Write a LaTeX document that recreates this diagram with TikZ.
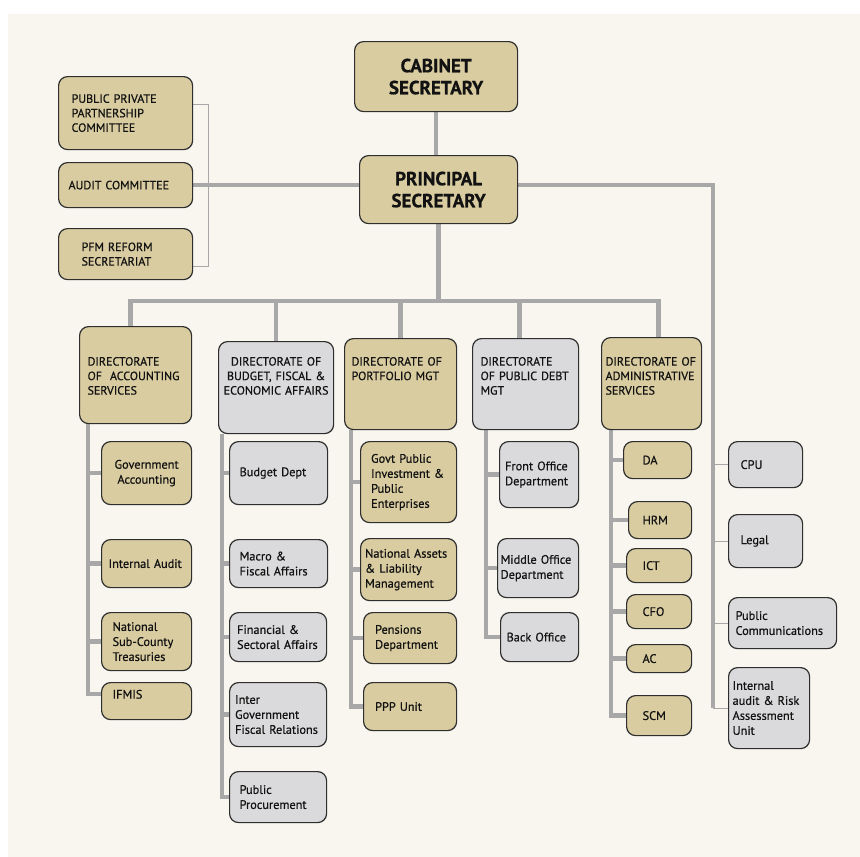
\documentclass[tikz,border=0pt]{standalone}
\usepackage{fontspec}
\setmainfont{PT Sans}[FakeBold=0.6]
\usetikzlibrary{calc}

\definecolor{paper}{HTML}{F8F6EF}
\definecolor{tanfill}{HTML}{D9CCA0}
\definecolor{greyfill}{HTML}{DADADC}
\definecolor{boxline}{HTML}{2E2E2E}
\definecolor{linegrey}{HTML}{A8A8A8}
\definecolor{ink}{HTML}{121212}

\pgfdeclarelayer{bg}
\pgfsetlayers{bg,main}

\newcommand{\headfont}{\fontsize{19}{22}\selectfont\bfseries}
\newcommand{\dirfont}{\fontsize{12}{14.5}\selectfont}
\newcommand{\unitfont}{\fontsize{12.3}{15}\selectfont}

\begin{document}
\begin{tikzpicture}[
  x=1pt, y=-1pt,
  box/.style={
    draw=boxline,
    line width=1.2pt,
    rounded corners=9pt,
    anchor=north west,
    inner sep=0pt,
    align=left,
    text=ink
  },
  tanbox/.style={box, fill=tanfill},
  greybox/.style={box, fill=greyfill},
  head/.style={font=\headfont, align=center},
  dir/.style={font=\dirfont},
  unit/.style={font=\unitfont},
  link/.style={draw=linegrey, line width=4.5pt},
  thinlink/.style={draw=linegrey, line width=1.2pt}
]
\useasboundingbox (0,0) rectangle (860,857);

% top of the chart
\node[tanbox, head, minimum width=163pt, minimum height=70pt] (cab) at (354,41) {CABINET\\SECRETARY};
\node[tanbox, head, minimum width=158pt, minimum height=68pt] (prin) at (359,155) {PRINCIPAL\\SECRETARY};

% committees
\node[tanbox, dir, minimum width=134pt, minimum height=73pt, text width=108pt] (pppc) at (58,76) {PUBLIC PRIVATE\\PARTNERSHIP\\COMMITTEE};
\node[tanbox, dir, minimum width=134pt, minimum height=45pt, text width=114pt] (audc) at (58,162) {AUDIT COMMITTEE};
\node[tanbox, dir, minimum width=134pt, minimum height=51pt, text width=88pt] (pfm) at (58,228) {PFM REFORM\\SECRETARIAT};

% directorates
\node[tanbox, dir, minimum width=112pt, text width=96pt, text height=39pt, text depth=58pt] (acc) at (79,326) {DIRECTORATE\\OF~~ACCOUNTING\\SERVICES};
\node[greybox, dir, align=center, minimum width=115pt, text width=109pt, text height=24pt, text depth=68pt] (bud) at (218,341) {DIRECTORATE OF\\BUDGET, FISCAL \&\\ECONOMIC AFFAIRS};
\node[tanbox, dir, minimum width=112pt, text width=98pt, text height=27pt, text depth=64pt] (port) at (344,338) {DIRECTORATE OF\\PORTFOLIO MGT};
\node[greybox, dir, minimum width=106pt, text width=90pt, text height=27pt, text depth=64pt] (debt) at (472,338) {DIRECTORATE\\OF PUBLIC DEBT\\MGT};
\node[tanbox, dir, minimum width=100pt, text width=92pt, text height=28pt, text depth=64pt] (adm) at (601,337) {DIRECTORATE OF\\ADMINISTRATIVE\\SERVICES};

% accounting services
\node[tanbox, unit, align=center, minimum width=90pt, minimum height=63pt, text width=76pt] (ga) at (101,441) {Government\\Accounting};
\node[tanbox, unit, minimum width=90pt, minimum height=48pt, text width=76pt] (ia) at (101,539) {Internal Audit};
\node[tanbox, unit, minimum width=90pt, minimum height=58pt, text width=68pt] (nst) at (101,612) {National\\Sub-County\\Treasuries};
\node[tanbox, unit, minimum width=90pt, text width=68pt, text height=16pt, text depth=21pt] (ifm) at (101,682) {IFMIS};

% budget, fiscal and economic affairs
\node[greybox, unit, minimum width=98pt, minimum height=63pt, text width=78pt] (bd) at (229,441) {Budget Dept};
\node[greybox, unit, minimum width=98pt, minimum height=48pt, text width=78pt] (mfa) at (229,539) {Macro \&\\Fiscal Affairs};
\node[greybox, unit, minimum width=97pt, minimum height=49pt, text width=82pt] (fsa) at (229,612) {Financial \&\\Sectoral Affairs};
\node[greybox, unit, minimum width=97pt, minimum height=64pt, text width=86pt] (igf) at (229,682) {Inter\\Government\\Fiscal Relations};
\node[greybox, unit, minimum width=97pt, minimum height=51pt, text width=77pt] (pp) at (229,771) {Public\\Procurement};

% portfolio management
\node[tanbox, unit, minimum width=96pt, minimum height=81pt, text width=75pt] (gpi) at (360,441) {Govt Public\\Investment \&\\Public\\Enterprises};
\node[tanbox, unit, minimum width=96pt, minimum height=62pt, text width=87pt] (nal) at (360,538) {National Assets\\\& Liability\\Management};
\node[tanbox, unit, minimum width=93pt, minimum height=51pt, text width=70pt] (pen) at (363,612) {Pensions\\Department};
\node[tanbox, unit, minimum width=93pt, minimum height=48pt, text width=70pt] (pppu) at (363,682) {PPP Unit};

% public debt management
\node[greybox, unit, minimum width=79pt, minimum height=66pt, text width=68pt] (fo) at (499,441) {Front Office\\Department};
\node[greybox, unit, minimum width=81pt, minimum height=59pt, text width=75pt] (mo) at (497,538) {Middle Office\\Department};
\node[greybox, unit, minimum width=78pt, minimum height=49pt, text width=66pt] (bo) at (500,612) {Back Office};

% administrative services
\node[tanbox, unit, minimum width=68pt, minimum height=37pt, text width=30pt] (da) at (623,441) {DA};
\node[tanbox, unit, minimum width=63pt, minimum height=37pt, text width=35pt] (hrm) at (628,501) {HRM};
\node[tanbox, unit, minimum width=65pt, minimum height=34pt, text width=33pt] (ict) at (626,548) {ICT};
\node[tanbox, unit, minimum width=65pt, minimum height=34pt, text width=33pt] (cfo) at (626,594) {CFO};
\node[tanbox, unit, minimum width=65pt, minimum height=28pt, text width=33pt] (ac) at (626,644) {AC};
\node[tanbox, unit, minimum width=65pt, minimum height=40pt, text width=33pt] (scm) at (626,695) {SCM};

% units under the principal secretary
\node[greybox, unit, minimum width=74pt, minimum height=46pt, text width=50pt] (cpu) at (728,441) {CPU};
\node[greybox, unit, minimum width=74pt, minimum height=53pt, text width=50pt] (legal) at (728,514) {Legal};
\node[greybox, unit, minimum width=108pt, minimum height=51pt, text width=94pt] (pcom) at (728,597) {Public\\Communications};
\node[greybox, unit, minimum width=81pt, minimum height=81pt, text width=73pt] (iaru) at (728,667) {Internal\\audit \& Risk\\Assessment\\Unit};

\begin{pgfonlayer}{bg}
  \fill[white] (0,0) rectangle (860,857);
  \fill[paper] (8,14) rectangle (860,857);

  \draw[link] (cab.south) -- (cab.south |- prin.north);
  \draw[link] (audc.east) -- (audc.east -| prin.west);
  \draw[link] (audc.east -| prin.east) -| ([xshift=-15pt]iaru.west);
  \foreach \n in {cpu,legal,pcom,iaru}
    \draw[thinlink] (\n.west) -- ++(-15,0);
  \draw[thinlink] ([yshift=9pt]pppc.east) -- ++(15,0) |- ([yshift=-12pt]pfm.east);

  % bus to the directorates
  \coordinate (bus) at (435,301);
  \draw[link] (prin.south) -- (prin.south |- bus);
  \draw[link] ([xshift=-5pt]acc.north) |- (bus) -| ([xshift=7pt]adm.north);
  \draw[link] (bud.north) -- (bud.north |- bus);
  \draw[link] (port.north) -- (port.north |- bus);
  \draw[link] ([xshift=-6pt]debt.north) -- ([xshift=-6pt]debt.north |- bus);

  % spines
  \coordinate (accsp) at ([xshift=9pt]acc.south west);
  \coordinate (budsp) at ([xshift=4pt]bud.south west);
  \coordinate (portsp) at ([xshift=7pt]port.south west);
  \coordinate (debtsp) at ([xshift=14pt]debt.south west);
  \coordinate (admsp) at ([xshift=10pt]adm.south west);

  \draw[link] (accsp) |- ([yshift=7pt]ifm.west);
  \foreach \n in {ga,ia,nst}
    \draw[link] (\n.west) -- (\n.west -| accsp);
  \draw[link] (budsp) |- (pp.west);
  \foreach \n in {bd,mfa,fsa,igf}
    \draw[link] (\n.west) -- (\n.west -| budsp);
  \draw[link] (portsp) |- (pppu.west);
  \foreach \n in {gpi,nal,pen}
    \draw[link] (\n.west) -- (\n.west -| portsp);
  \draw[link] (debtsp) |- (bo.west);
  \foreach \n in {fo,mo}
    \draw[link] (\n.west) -- (\n.west -| debtsp);
  \draw[link] (admsp) |- (scm.west);
  \foreach \n in {da,hrm,ict,cfo,ac}
    \draw[link] (\n.west) -- (\n.west -| admsp);
\end{pgfonlayer}
\end{tikzpicture}
\end{document}
